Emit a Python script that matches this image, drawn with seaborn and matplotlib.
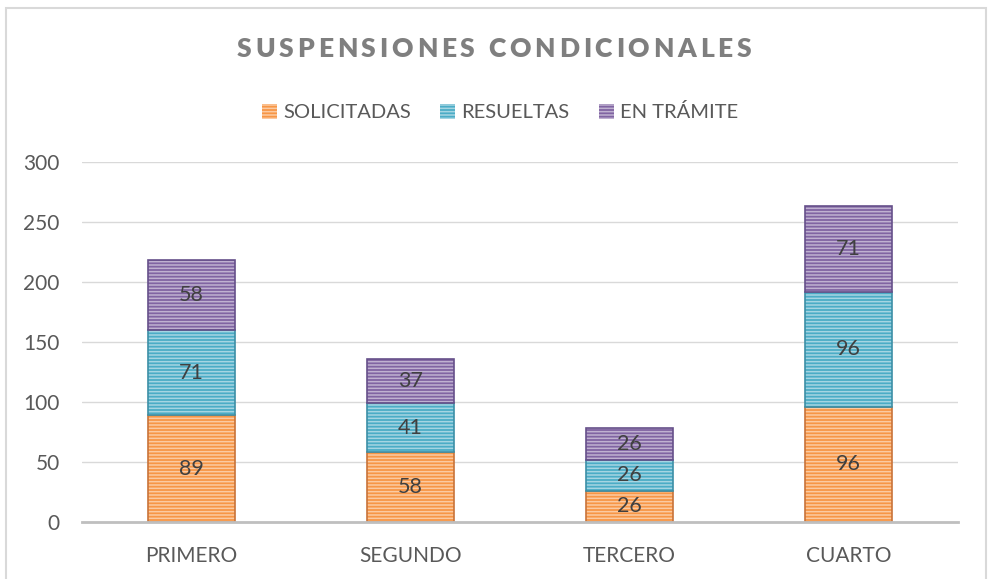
import numpy as np
import pandas as pd
import seaborn as sns
import matplotlib.pyplot as plt
from matplotlib.patches import Rectangle

# data
trimestres = ["PRIMERO", "SEGUNDO", "TERCERO", "CUARTO"]
solicitadas = [89, 58, 26, 96]
resueltas = [71, 41, 26, 96]
en_tramite = [58, 37, 26, 71]

series = ["SOLICITADAS", "RESUELTAS", "EN TRÁMITE"]
colores = ["#F79646", "#4BACC6", "#8064A2"]
bordes = ["#C8733A", "#3C8FA6", "#66508A"]

df = pd.DataFrame({"trimestre": trimestres,
                   "SOLICITADAS": solicitadas,
                   "RESUELTAS": resueltas,
                   "EN TRÁMITE": en_tramite})

sns.set_theme(style="white")
plt.rcParams["font.family"] = ["Lato", "DejaVu Sans"]
plt.rcParams["hatch.linewidth"] = 1.1

fig = plt.figure(figsize=(9.88, 5.79), dpi=100)
ax = fig.add_axes([0.083, 0.0984, 0.8866, 0.6218])

abajo = np.zeros(len(trimestres))
for nombre, col, borde in zip(series, colores, bordes):
    vals = df[nombre].to_numpy()
    # relleno con rayas horizontales claras
    sns.barplot(data=df, x="trimestre", y=nombre, bottom=abajo, color=col,
                width=0.4, saturation=1, edgecolor=(1, 1, 1, 0.5),
                linewidth=0, hatch="-----", ax=ax)
    # contorno
    sns.barplot(data=df, x="trimestre", y=nombre, bottom=abajo, color=borde,
                fill=False, width=0.4, saturation=1, edgecolor=borde,
                linewidth=1.2, ax=ax)
    for i, v in enumerate(vals):
        ax.text(i, abajo[i] + v / 2, str(v), ha="center", va="center",
                fontsize=15.5, color="#404040")
    abajo = abajo + vals

ax.set_ylim(0, 300)
ax.set_xlim(-0.5, 3.5)
ax.set_yticks(range(0, 301, 50))
ax.yaxis.grid(True, color="#D9D9D9", linewidth=1)
ax.set_axisbelow(True)
ax.set_xlabel("")
ax.set_ylabel("")
for s in ["top", "right", "left"]:
    ax.spines[s].set_visible(False)
ax.spines["bottom"].set_color("#BFBFBF")
ax.spines["bottom"].set_linewidth(2)
ax.tick_params(axis="both", length=0, labelsize=15, labelcolor="#595959")
ax.tick_params(axis="y", pad=16)
ax.tick_params(axis="x", pad=17)

# leyenda
handles = [Rectangle((0, 0), 1, 1, facecolor=c, edgecolor=(1, 1, 1, 0.5),
                     hatch="-----", linewidth=0) for c in colores]
fig.legend(handles, series, loc="center", bbox_to_anchor=(0.506, 0.806),
           ncol=3, frameon=False, fontsize=14.5, handlelength=0.75,
           handleheight=0.75, handletextpad=0.3, columnspacing=1.45,
           labelcolor="#595959")

# titulo con letras espaciadas
titulo = "SUSPENSIONES CONDICIONALES"
ancho_titulo = 514  # px
r = fig.canvas.get_renderer()
anchos = []
for ch in titulo:
    t = fig.text(0, 0, ch, fontsize=19, fontweight="heavy")
    anchos.append(t.get_window_extent(r).width if ch != " " else 6)
    t.remove()
extra = (ancho_titulo - sum(anchos)) / (len(titulo) - 1)
W = fig.get_figwidth() * fig.dpi
x = (W - ancho_titulo) / 2
for ch, w in zip(titulo, anchos):
    fig.text(x / W, 0.901, ch, fontsize=19, fontweight="heavy",
             color="#7F7F7F", ha="left", va="baseline")
    x += w + extra

# marco del grafico
fig.patches.append(Rectangle((0.006, -0.01), 0.992, 0.996, transform=fig.transFigure,
                             fill=False, edgecolor="#D9D9D9", linewidth=1.5))

fig.savefig("out.png", dpi=100)
